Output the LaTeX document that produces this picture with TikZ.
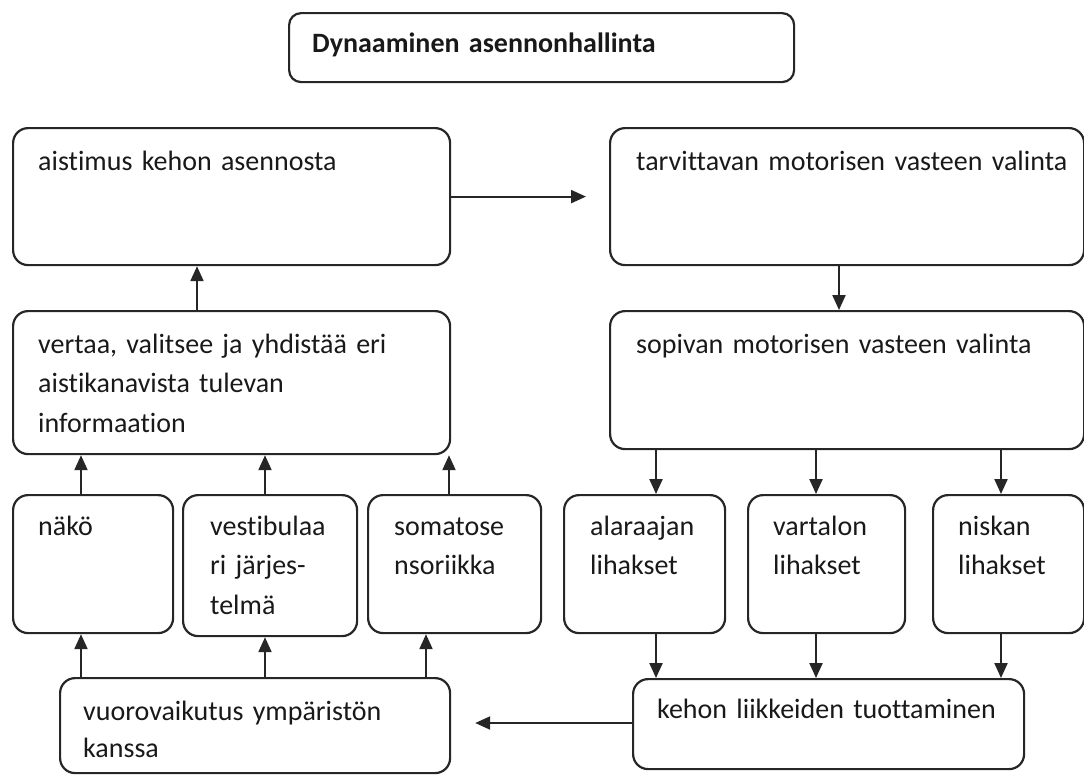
\documentclass[tikz,border=0pt]{standalone}
\usepackage{fontspec}
\setmainfont[Ligatures={NoCommon,NoContextual}]{Carlito}
\usetikzlibrary{arrows.meta}
\tikzset{
  box/.style={draw=black!85, line width=2.2pt, rounded corners=15pt, inner sep=0pt, anchor=north west},
  titlebox/.style={box, rounded corners=12pt},
  txt/.style={inner sep=0pt, anchor=base west, align=left, text width=440pt, font=\fontsize{28}{39.5}\selectfont, text=black!90},
  arr/.style={draw=black!85, line width=2.2pt, -{Triangle[length=15pt,width=13pt]}}
}
\begin{document}
\begin{tikzpicture}[x=1pt,y=-1pt]
\useasboundingbox (0,0) rectangle (1084,774);
% boxes
\node[titlebox, minimum width=505pt, minimum height=69pt] (T) at (288,12) {};
\node[box, minimum width=437pt, minimum height=137pt] (A) at (12,127) {};
\node[box, minimum width=474pt, minimum height=137pt] (B) at (609,127) {};
\node[box, minimum width=437pt, minimum height=143pt] (C) at (12,310) {};
\node[box, minimum width=474pt, minimum height=138pt] (D) at (609,310) {};
\node[box, minimum width=160pt, minimum height=138pt] (N1) at (12,494) {};
\node[box, minimum width=174pt, minimum height=141pt] (N2) at (182,494) {};
\node[box, minimum width=173pt, minimum height=138pt] (N3) at (367,494) {};
\node[box, minimum width=161pt, minimum height=138pt] (M1) at (563,494) {};
\node[box, minimum width=157pt, minimum height=138pt] (M2) at (747,494) {};
\node[box, minimum width=151pt, minimum height=138pt] (M3) at (932,494) {};
\node[box, minimum width=390pt, minimum height=95pt] (V) at (59,677) {};
\node[box, minimum width=391pt, minimum height=90pt] (K) at (632,678) {};
% texts
\node[txt, font=\fontsize{28}{39.5}\selectfont\bfseries] (tT) at (312,52) {Dynaaminen asennonhallinta};
\node[txt] (tA) at (38,170) {aistimus kehon asennosta};
\node[txt] (tB) at (636,170) {tarvittavan motorisen vasteen valinta};
\node[txt] (tC) at (38,353) {vertaa, valitsee ja yhdistää eri\\aistikanavista tulevan\\informaation};
\node[txt] (tD) at (636,353) {sopivan motorisen vasteen valinta};
\node[txt] (tN1) at (38,535) {näkö};
\node[txt] (tN2) at (210,535) {vestibulaa\\ri järjes-\\telmä};
\node[txt] (tN3) at (394,535) {somatose\\nsoriikka};
\node[txt] (tM1) at (590,535) {alaraajan\\lihakset};
\node[txt] (tM2) at (773,535) {vartalon\\lihakset};
\node[txt] (tM3) at (958,535) {niskan\\lihakset};
\node[txt, font=\fontsize{28}{37}\selectfont] (tV) at (83,720) {vuorovaikutus ympäristön\\kanssa};
\node[txt] (tK) at (657,718) {kehon liikkeiden tuottaminen};
% connectors
\draw[arr, shorten >=23pt] (A.east) -- (B.west);
\draw[arr] (C.north -| 197,0) -- (A.south -| 197,0);
\draw[arr] (B.south -| 839,0) -- (D.north -| 839,0);
\draw[arr] (N1.north -| 81,0) -- (C.south -| 81,0);
\draw[arr] (N2.north -| 265,0) -- (C.south -| 265,0);
\draw[arr] (N3.north -| 449,0) -- (C.south -| 449,0);
\draw[arr] (V.north -| 81,0) -- (N1.south -| 81,0);
\draw[arr] (V.north -| 265,0) -- (N2.south -| 265,0);
\draw[arr] (V.north -| 426,0) -- (N3.south -| 426,0);
\draw[arr] (D.south -| 656,0) -- (M1.north -| 656,0);
\draw[arr] (D.south -| 816,0) -- (M2.north -| 816,0);
\draw[arr] (D.south -| 1001,0) -- (M3.north -| 1001,0);
\draw[arr] (M1.south -| 656,0) -- (K.north -| 656,0);
\draw[arr] (M2.south -| 816,0) -- (K.north -| 816,0);
\draw[arr] (M3.south -| 1001,0) -- (K.north -| 1001,0);
\draw[arr, shorten >=24pt] (K.west |- 0,723) -- (V.east |- 0,723);
\end{tikzpicture}
\end{document}
